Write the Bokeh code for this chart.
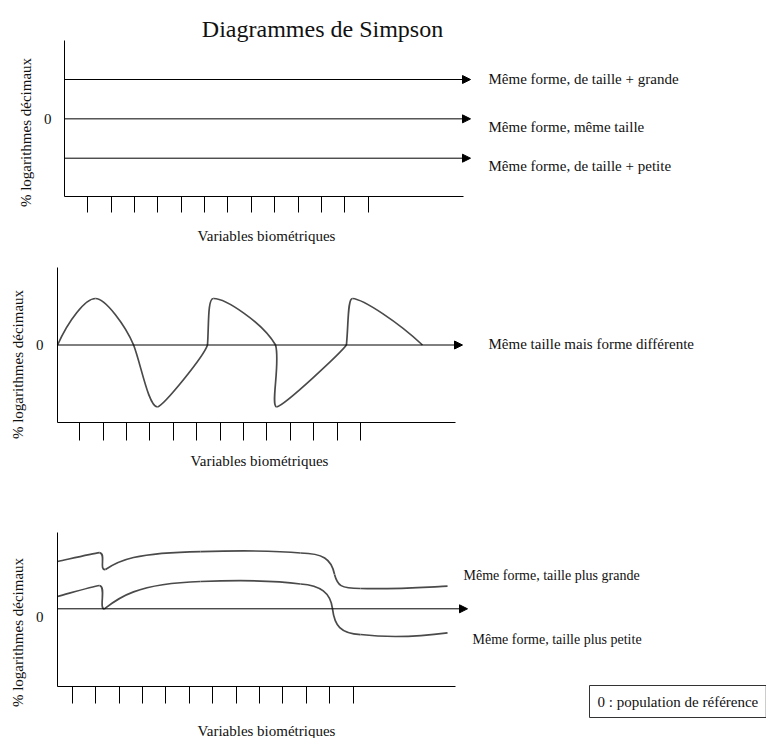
import math
from bokeh.plotting import figure
from bokeh.models import (Range1d, FixedTicker, ColumnDataSource, Arrow, NormalHead,
                          Label, LinearAxis)
from bokeh.layouts import column
from bokeh.embed import file_html
from bokeh.resources import INLINE

# ---------------- data ----------------
TITLE = "Diagrammes de Simpson"
Y_LABEL = "% logarithmes décimaux"
X_LABEL = "Variables biométriques"
VARIABLES = [1, 2, 3, 4, 5, 6, 7, 8, 9, 10, 11, 12, 13]
ZERO_LABEL = "0"

# Panel 1 : three parallel profiles (log % relative to reference)
P1_LEVELS = [1.0, 0.0, -1.0]
P1_TEXTS = ["Même forme, de taille + grande",
            "Même forme, même taille",
            "Même forme, de taille + petite"]

# Panel 2 : same size, different shape (bezier segments: x0, y0, cx0, cy0, cx1, cy1, x1, y1)
P2_TEXT = "Même taille mais forme différente"
P2_WAVE = [
    (0.05, 0.00, 0.52, 0.32, 1.24, 0.60, 1.67, 0.60),
    (1.67, 0.60, 2.10, 0.60, 2.95, 0.25, 3.30, 0.00),
    (3.30, 0.00, 3.60, -0.23, 3.94, -0.80, 4.32, -0.80),
    (4.32, -0.80, 4.62, -0.77, 6.29, -0.15, 6.46, 0.00),
    (6.46, 0.00, 6.52, 0.25, 6.46, 0.61, 6.72, 0.60),
    (6.72, 0.60, 7.23, 0.60, 8.81, 0.29, 9.37, 0.00),
    (9.37, 0.00, 9.58, -0.23, 9.15, -0.78, 9.41, -0.80),
    (9.41, -0.80, 9.80, -0.77, 12.15, -0.10, 12.40, 0.00),
    (12.40, 0.00, 12.49, 0.29, 12.45, 0.60, 12.66, 0.60),
    (12.66, 0.60, 13.13, 0.59, 14.63, 0.29, 15.65, 0.00),
]

# Panel 3 : same shape, different size
P3_TEXTS = ["Même forme, taille plus grande", "Même forme, taille plus petite"]
P3_UPPER = [
    (0.372, 0.610, 1.141, 0.662, 1.867, 0.714, 2.166, 0.726),
    (2.166, 0.726, 2.465, 0.714, 2.123, 0.494, 2.422, 0.507),
    (2.422, 0.507, 2.977, 0.623, 3.703, 0.726, 6.479, 0.739),
    (6.479, 0.739, 8.187, 0.752, 9.681, 0.752, 10.749, 0.720),
    (10.749, 0.720, 11.688, 0.714, 12.073, 0.649, 12.201, 0.443),
    (12.201, 0.443, 12.329, 0.301, 12.455, 0.262, 13.310, 0.262),
    (13.310, 0.262, 14.591, 0.249, 15.872, 0.275, 17.026, 0.292),
]
P3_LOWER = [
    (0.372, 0.159, 1.141, 0.223, 1.867, 0.288, 2.166, 0.301),
    (2.166, 0.301, 2.465, 0.288, 2.123, -0.009, 2.379, 0.000),
    (2.379, 0.000, 2.934, 0.133, 3.703, 0.326, 6.479, 0.352),
    (6.479, 0.352, 8.187, 0.372, 9.681, 0.365, 10.749, 0.320),
    (10.749, 0.320, 11.603, 0.301, 12.029, 0.210, 12.115, 0.000),
    (12.115, 0.000, 12.201, -0.215, 12.455, -0.319, 13.310, -0.332),
    (13.310, -0.332, 14.591, -0.377, 15.872, -0.357, 17.026, -0.310),
]
LEGEND_TEXT = "0 : population de référence"

# ---------------- style / layout ----------------
FONT = "'Liberation Serif', 'Times New Roman', serif"
W = 766
CURVE_COLOR = "#4a4a4a"
TEXT_COLOR = "#111111"


class Panel:
    """A figure whose frame fills the canvas; axes are placed at fixed locations."""

    def __init__(self, height, x0, xs, y0, ys, ax_left, ax_right, ax_top, ax_bottom,
                 tick_out, zero_tick, zero_standoff):
        self.x0, self.xs, self.y0, self.ys = x0, xs, y0, ys
        p = figure(width=W, height=height, output_backend="svg", toolbar_location=None,
                   x_range=Range1d(-x0 / xs, (W - x0) / xs),
                   y_range=Range1d((y0 - height) / ys, y0 / ys),
                   x_axis_location=None, y_axis_location=None,
                   min_border=0, min_border_left=0, min_border_right=0,
                   min_border_top=0, min_border_bottom=0, outline_line_color=None)
        p.grid.visible = False
        p.background_fill_color = "white"
        p.border_fill_color = "white"

        xa = LinearAxis(fixed_location=self.v(ax_bottom),
                        bounds=(self.u(ax_left), self.u(ax_right)),
                        ticker=FixedTicker(ticks=VARIABLES),
                        major_tick_out=tick_out, major_tick_in=0,
                        minor_tick_line_color=None, major_label_text_color=None,
                        axis_line_color="black", major_tick_line_color="black")
        p.add_layout(xa, "below")

        ya = LinearAxis(fixed_location=self.u(ax_left),
                        bounds=(self.v(ax_bottom), self.v(ax_top)),
                        ticker=FixedTicker(ticks=[zero_tick]),
                        major_label_overrides={zero_tick: ZERO_LABEL},
                        major_tick_out=0, major_tick_in=0, minor_tick_line_color=None,
                        major_label_standoff=zero_standoff,
                        major_label_text_font=FONT, major_label_text_font_size="15px",
                        major_label_text_color=TEXT_COLOR,
                        axis_line_color="black")
        p.add_layout(ya, "left")
        self.p = p

    # pixel position on the panel -> data units
    def u(self, px):
        return (px - self.x0) / self.xs

    def v(self, py):
        return (self.y0 - py) / self.ys

    def text(self, px, py, text, size="15px", align="left", angle=0.0, **kw):
        self.p.add_layout(Label(x=self.u(px), y=self.v(py), text=text, text_font=FONT,
                                text_font_size=size, text_color=TEXT_COLOR,
                                text_align=align, text_baseline="middle", angle=angle, **kw))

    def arrows(self, x_start, x_end, levels):
        src = ColumnDataSource(dict(x_start=[x_start] * len(levels), y_start=levels,
                                    x_end=[x_end] * len(levels), y_end=levels))
        self.p.add_layout(Arrow(source=src, x_start="x_start", y_start="y_start",
                                x_end="x_end", y_end="y_end", line_color="black",
                                line_width=1,
                                end=NormalHead(size=8, fill_color="black",
                                               line_color="black", line_width=1)))

    def curve(self, segs):
        cols = ["x0", "y0", "cx0", "cy0", "cx1", "cy1", "x1", "y1"]
        src = ColumnDataSource({c: [s[i] for s in segs] for i, c in enumerate(cols)})
        self.p.bezier(source=src, x0="x0", y0="y0", x1="x1", y1="y1",
                      cx0="cx0", cy0="cy0", cx1="cx1", cy1="cy1",
                      line_color=CURVE_COLOR, line_width=1.7)


# ---------------- panel 1 (page rows 0..245) ----------------
a = Panel(245, 64, 23.35, 118.35, 39.35, 64, 463, 40, 196, 16, 0.0, 13)
a.text(322, 28, TITLE, size="24px", align="center")
a.arrows(a.u(64), a.u(470), P1_LEVELS)
for txt, py in zip(P1_TEXTS, [78, 126, 165]):
    a.text(488, py, txt)
a.text(266, 235, X_LABEL, align="center")
a.text(25, 132, Y_LABEL, align="center", angle=math.pi / 2)

# ---------------- panel 2 (page rows 245..475) ----------------
b = Panel(230, 55.9, 23.39, 99.5, 77.5, 57, 455, 22, 177, 18, 0.0, 14)
b.arrows(b.u(57), b.u(462), [0.0])
b.curve(P2_WAVE)
b.text(488, 98, P2_TEXT)
b.text(259, 215, X_LABEL, align="center")
b.text(17, 119, Y_LABEL, align="center", angle=math.pi / 2)

# ---------------- panel 3 (page rows 475..738) ----------------
c = Panel(263, 48.28, 23.42, 133.3, 77.5, 57, 455, 57, 211, 17, -0.11, 14)
c.arrows(c.u(57), c.u(467), [0.0])
c.curve(P3_UPPER)
c.curve(P3_LOWER)
c.text(463, 100, P3_TEXTS[0], size="14px")
c.text(472, 164, P3_TEXTS[1], size="14px")
c.text(266, 255, X_LABEL, align="center")
c.text(17, 157, Y_LABEL, align="center", angle=math.pi / 2)
c.text(589, 226, LEGEND_TEXT, border_line_color="#333333", border_line_width=1,
       background_fill_color="white", padding=8)

layout = column(a.p, b.p, c.p)
open("out.html", "w").write(file_html(layout, INLINE))
